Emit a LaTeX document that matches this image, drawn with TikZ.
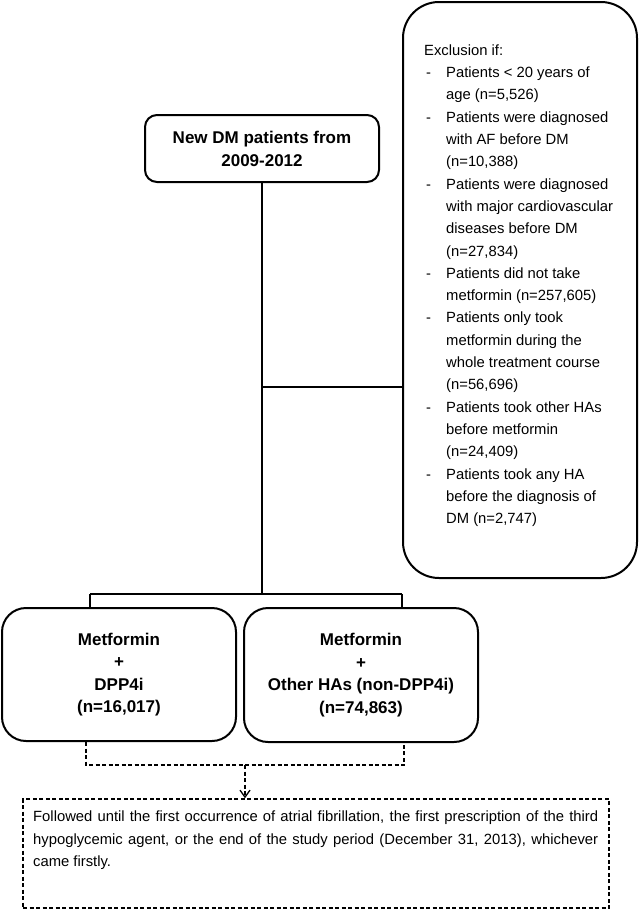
\documentclass[tikz,border=0pt]{standalone}
\usepackage{fontspec}
\setmainfont{Liberation Sans}
\usetikzlibrary{arrows.meta}
\begin{document}
\begin{tikzpicture}[x=1pt,y=-1pt,
  solidbox/.style={draw, line width=2pt, align=center, inner sep=0pt,
    font=\fontsize{17}{22.5}\selectfont\bfseries},
  conn/.style={line width=1.4pt},
  dconn/.style={line width=1.5pt, dash pattern=on 4pt off 2.5pt},
  tip/.style={-{Straight Barb[length=7pt,width=10pt,line width=1.3pt]}}]
\useasboundingbox (0,0) rectangle (638,911);

% top box
\node[solidbox, rounded corners=12pt, minimum width=234pt, minimum height=67pt,
  font=\fontsize{17}{23}\selectfont\bfseries]
  (top) at (262,148.5) {New DM patients from\\2009-2012};

% exclusion box
\node[draw, line width=2pt, rounded corners=36pt, minimum width=234pt, minimum height=576pt]
  (excl) at (520,290) {};
\node[anchor=west, inner sep=0pt, font=\fontsize{14.8}{22.3}\selectfont]
  (excltext) at (424,285) {%
\begin{tabular}{@{}l@{}l@{}}
\multicolumn{2}{@{}l@{}}{Exclusion if:}\\
\makebox[22pt][l]{\hspace{2pt}-}&Patients < 20 years of\\
&age (n=5,526)\\
\makebox[22pt][l]{\hspace{2pt}-}&Patients were diagnosed\\
&with AF before DM\\
&(n=10,388)\\
\makebox[22pt][l]{\hspace{2pt}-}&Patients were diagnosed\\
&with major cardiovascular\\
&diseases before DM\\
&(n=27,834)\\
\makebox[22pt][l]{\hspace{2pt}-}&Patients did not take\\
&metformin (n=257,605)\\
\makebox[22pt][l]{\hspace{2pt}-}&Patients only took\\
&metformin during the\\
&whole treatment course\\
&(n=56,696)\\
\makebox[22pt][l]{\hspace{2pt}-}&Patients took other HAs\\
&before metformin\\
&(n=24,409)\\
\makebox[22pt][l]{\hspace{2pt}-}&Patients took any HA\\
&before the diagnosis of\\
&DM (n=2,747)
\end{tabular}};

% cohort boxes
\node[solidbox, rounded corners=24pt, minimum width=234pt, minimum height=133pt]
  (dpp) at (119,674.5) {Metformin\\+\\DPP4i\\(n=16,017)};
\node[solidbox, rounded corners=24pt, minimum width=234pt, minimum height=134pt]
  (oth) at (361,675) {Metformin\\+\\Other HAs (non-DPP4i)\\(n=74,863)};

% follow-up box
\node[draw, line width=1.5pt, dash pattern=on 4pt off 2.5pt, minimum width=586pt, minimum height=109pt]
  (follow) at (316,853.5) {};
\node[anchor=north west, inner sep=0pt, text width=565pt, align=justify,
  font=\fontsize{14.8}{22.5}\selectfont]
  (followtext) at (33,811) {Followed until the first occurrence of atrial fibrillation, the first prescription of the third hypoglycemic agent, or the end of the study period (December 31, 2013), whichever came firstly.};

% solid connectors
\coordinate (jexcl) at (262,387);
\coordinate (jbot) at (262,594);
\coordinate (jl) at (90,594);
\coordinate (jr) at (402,594);
\draw[conn] (top.south) -- (jbot);
\draw[conn] (jexcl) -- (jexcl -| excl.west);
\draw[conn] (jl) -- (jr);
\draw[conn] (jl) -- (jl |- dpp.north);
\draw[conn] (jr) -- (jr |- oth.north);

% dashed connectors
\coordinate (dl) at (86,765);
\coordinate (dr) at (404,765);
\coordinate (dm) at (245,765);
\draw[dconn] (dl |- dpp.south) -- (dl) -- (dr) -- (dr |- oth.south);
\draw[dconn, tip] (dm) -- (dm |- follow.north);
\end{tikzpicture}
\end{document}
